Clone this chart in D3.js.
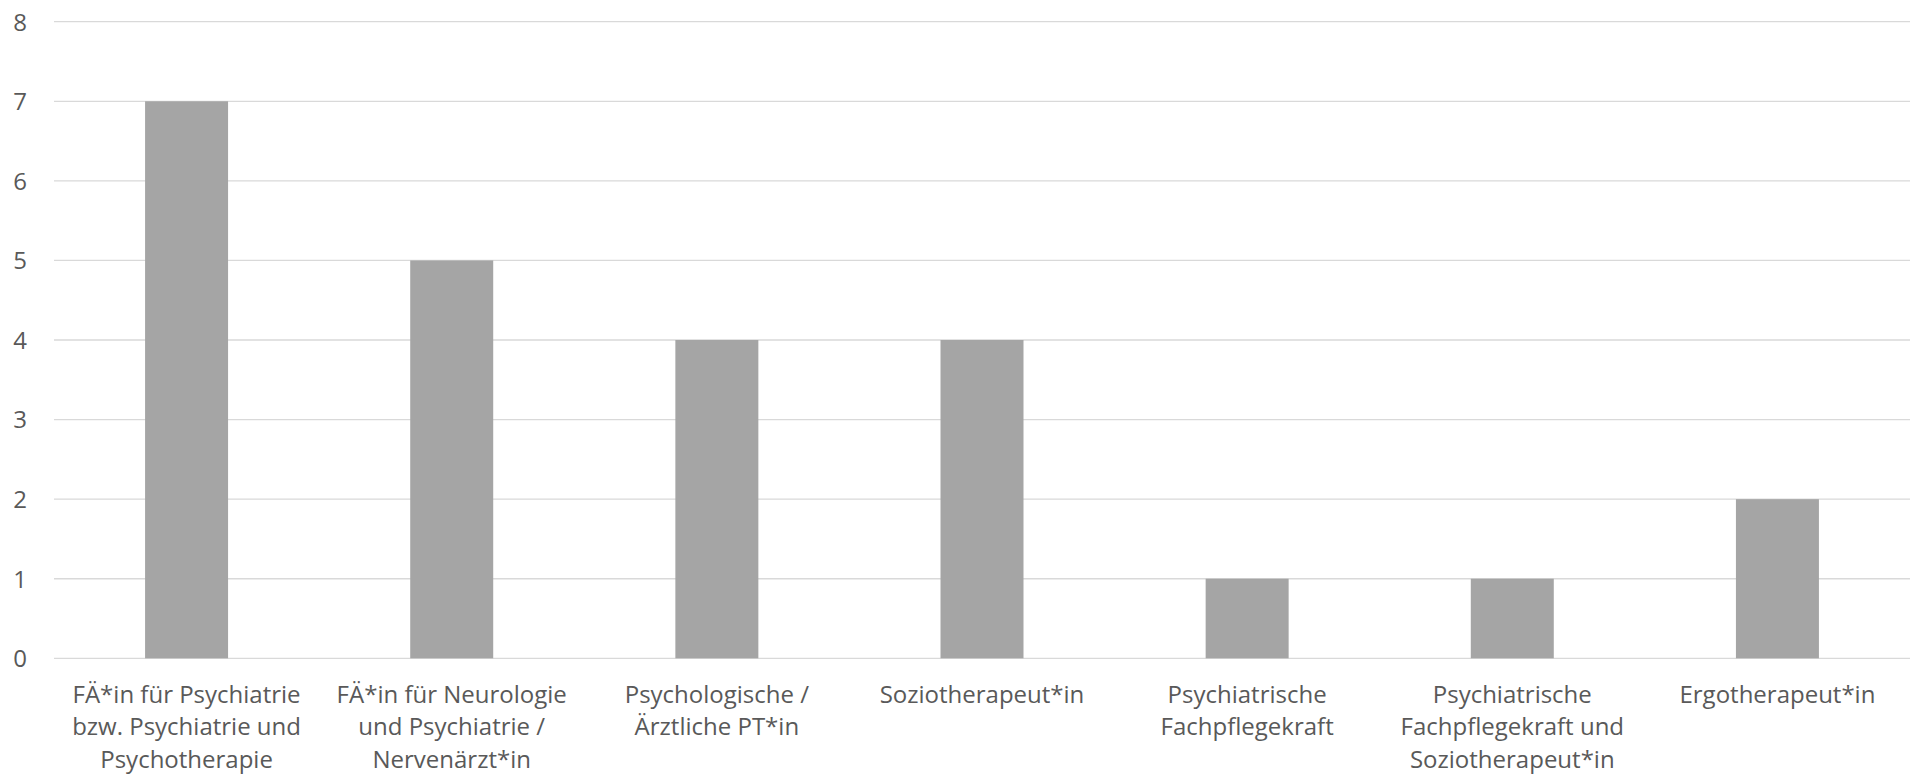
<!DOCTYPE html>
<html>
<head>
<meta charset="utf-8">
<script src="https://cdn.jsdelivr.net/npm/d3@7"></script>
<style>
  html, body { margin: 0; padding: 0; background: #ffffff; }
  svg { display: block; }
  text { font-family: "Open Sans", "Noto Sans", sans-serif; fill: #595959; }
</style>
</head>
<body>
<svg id="chart" width="1910" height="777"></svg>
<script>
// Berufsgruppen (line breaks mark where each axis label wraps)
const categories = [
  "FÄ*in für Psychiatrie\nbzw. Psychiatrie und\nPsychotherapie",
  "FÄ*in für Neurologie\nund Psychiatrie /\nNervenärzt*in",
  "Psychologische /\nÄrztliche PT*in",
  "Soziotherapeut*in",
  "Psychiatrische\nFachpflegekraft",
  "Psychiatrische\nFachpflegekraft und\nSoziotherapeut*in",
  "Ergotherapeut*in"
];
const values = [7, 5, 4, 4, 1, 1, 2];
const yTicks = [0, 1, 2, 3, 4, 5, 6, 7, 8];

const width = 1910, height = 777;
const margin = { top: 21.7, right: 0, bottom: 118.7, left: 54 };
const fontSize = 24;

const svg = d3.select("#chart");

const x = d3.scaleBand()
  .domain(categories)
  .range([margin.left, width - margin.right])
  .paddingInner(0.687)
  .paddingOuter(0.3435);

const y = d3.scaleLinear()
  .domain([0, 8])
  .range([height - margin.bottom, margin.top]);

// horizontal gridlines
svg.append("g")
  .selectAll("line")
  .data(yTicks)
  .join("line")
  .attr("x1", margin.left)
  .attr("x2", width - margin.right)
  .attr("y1", d => y(d))
  .attr("y2", d => y(d))
  .attr("stroke", "#d9d9d9")
  .attr("stroke-width", 1.3);

// y axis labels
const yAxis = d3.axisLeft(y).tickValues(yTicks).tickSize(0).tickPadding(0).tickFormat(d3.format("d"));
svg.append("g")
  .attr("transform", `translate(27,0)`)
  .call(yAxis)
  .call(g => g.select(".domain").remove())
  .call(g => g.selectAll("text")
    .attr("font-size", fontSize)
    .attr("fill", "#595959")
    .attr("font-family", "Open Sans, Noto Sans, sans-serif")
    .attr("dy", "0.35em"));

// bars
svg.append("g")
  .selectAll("rect")
  .data(values)
  .join("rect")
  .attr("x", (d, i) => x(categories[i]))
  .attr("width", x.bandwidth())
  .attr("y", d => y(d))
  .attr("height", d => y(0) - y(d))
  .attr("fill", "#a5a5a5");

// x axis labels, wrapped
const xAxis = d3.axisBottom(x).tickSize(0).tickPadding(0);
svg.append("g")
  .attr("transform", `translate(0,${y(0)})`)
  .call(xAxis)
  .call(g => g.select(".domain").remove())
  .call(g => g.selectAll(".tick text").each(function(d) {
    const t = d3.select(this);
    t.text(null)
      .attr("font-size", fontSize)
      .attr("fill", "#595959")
      .attr("font-family", "Open Sans, Noto Sans, sans-serif")
      .attr("y", 0)
      .attr("dy", null);
    d.split("\n").forEach((line, k) => {
      t.append("tspan")
        .attr("x", 0)
        .attr("y", 44.5 + k * 32.5)
        .text(line);
    });
  }));
</script>
</body>
</html>
